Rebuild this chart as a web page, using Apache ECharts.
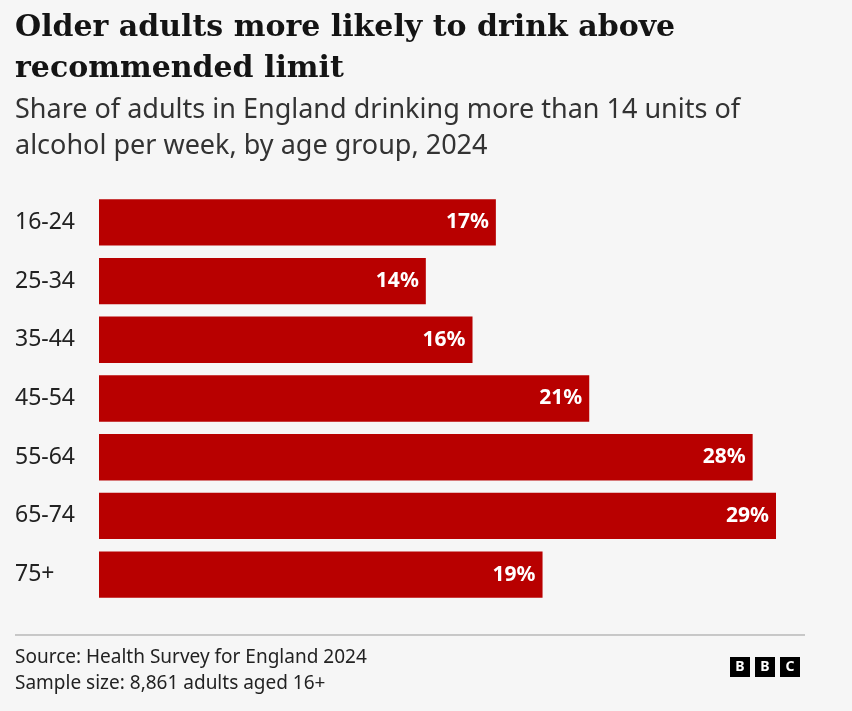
<!DOCTYPE html>
<html><head><meta charset="utf-8">
<script src="https://cdn.jsdelivr.net/npm/echarts@6/dist/echarts.min.js"></script>
<style>html,body{margin:0;padding:0;background:#f6f6f6}#c{width:852px;height:711px}</style>
</head><body><div id="c"></div>
<script>
var categories = ["16-24","25-34","35-44","45-54","55-64","65-74","75+"];
var values = [17,14,16,21,28,29,19];
var chart = echarts.init(document.getElementById('c'));
var F = "'Noto Sans', 'Open Sans', sans-serif";
function box(x, letter){
  return [{type:'rect',shape:{x:x,y:657,width:20,height:20},style:{fill:'#000'}},
          {type:'text',style:{x:x+10,y:667,text:letter,fill:'#fff',font:'bold 14px '+F,align:'center',verticalAlign:'middle'}}];
}
chart.setOption({
  backgroundColor:'#f6f6f6',
  grid:{left:99,right:76,top:193,bottom:107},
  xAxis:{type:'value',min:0,max:29,show:false},
  yAxis:{type:'category',data:categories,inverse:true,axisLine:{show:false},axisTick:{show:false},
    axisLabel:{align:'left',margin:84,fontSize:23,color:'#222',fontFamily:F}},
  series:[{type:'bar',data:values,barCategoryGap:'21%',itemStyle:{color:'#b80000'},
    label:{show:true,position:'insideRight',offset:[-2,0],formatter:'{c}%',color:'#fff',fontWeight:'bold',fontSize:21,fontFamily:F}}],
  graphic:[
    {type:'text',style:{x:15,y:8,text:'Older adults more likely to drink above\nrecommended limit',font:'bold 30px "DejaVu Serif", serif',lineHeight:41,fill:'#141414'}},
    {type:'text',style:{x:15,y:92,text:'Share of adults in England drinking more than 14 units of\nalcohol per week, by age group, 2024',font:'27px '+F,lineHeight:36,fill:'#333'}},
    {type:'line',shape:{x1:15,y1:635,x2:805,y2:635},style:{stroke:'#999',lineWidth:1}},
    {type:'text',style:{x:15,y:645,text:'Source: Health Survey for England 2024\nSample size: 8,861 adults aged 16+',font:'19px '+F,lineHeight:26,fill:'#222'}}
  ].concat(box(730,'B'),box(755,'B'),box(780,'C'))
});
</script></body></html>
